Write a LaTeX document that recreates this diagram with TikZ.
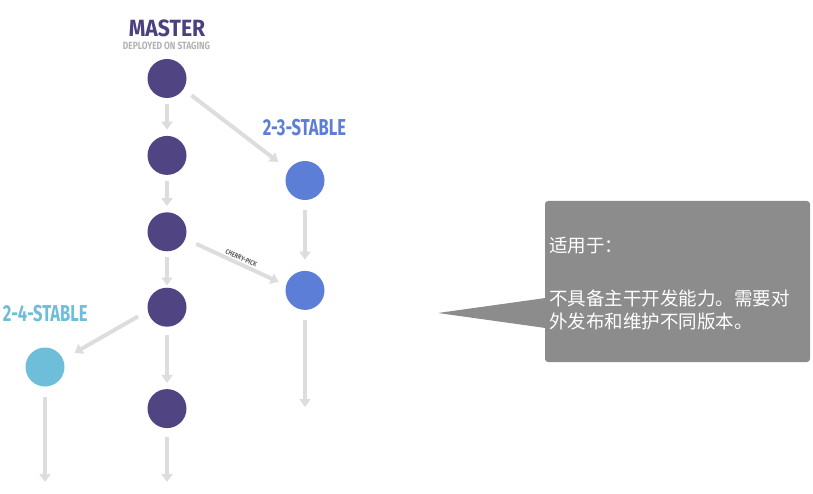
\documentclass[tikz,border=0pt]{standalone}
\usepackage{fontspec}
\newfontfamily\cjkfont{Noto Sans CJK SC}
\newfontfamily\masterfont[FakeStretch=0.9]{Fira Sans}
\newfontfamily\branchfont[FakeStretch=0.72]{Fira Sans}
\newfontfamily\notefont[FakeStretch=0.8]{Fira Sans}
\usetikzlibrary{arrows.meta, positioning}
\definecolor{MasterPurple}{RGB}{80,68,130}
\definecolor{MasterText}{RGB}{76,64,128}
\definecolor{StableBlue}{RGB}{92,126,214}
\definecolor{StableLiteBlue}{RGB}{110,189,217}
\definecolor{ArrowGray}{RGB}{221,221,221}
\definecolor{NoteGray}{RGB}{178,178,178}
\definecolor{PickGray}{RGB}{95,95,95}
\definecolor{CalloutGray}{RGB}{140,140,140}
\tikzset{%
  commit/.style={%
    circle,%
    minimum size=39pt,%
    inner sep=0pt,%
  },
  master_commit/.style={commit, fill=MasterPurple},
  stable_commit/.style={commit, fill=StableBlue},
  old_commit/.style={commit, fill=StableLiteBlue},
  flow_arrow/.style={%
    draw=ArrowGray,%
    line width=4pt,%
    -{Triangle[length=8pt, width=11pt]},%
    shorten <=6pt,%
    shorten >=6pt,%
  },
  branch_label/.style={%
    font={\branchfont\bfseries\fontsize{23}{23}\selectfont},%
    anchor=base,%
    inner sep=0pt,%
  },
  master_label/.style={%
    branch_label,%
    font={\masterfont\bfseries\fontsize{23.5}{23.5}\selectfont},%
  },
  note_label/.style={%
    font={\notefont\bfseries\fontsize{10.5}{10.5}\selectfont},%
    text=NoteGray,%
    anchor=base,%
    inner sep=0pt,%
  },
  pick_label/.style={%
    font={\notefont\bfseries\fontsize{7}{7}\selectfont},%
    text=PickGray,%
    inner sep=1.5pt,%
  },
  callout_box/.style={%
    fill=CalloutGray,%
    rectangle,%
    rounded corners=3pt,%
    minimum width=265pt,%
    minimum height=161pt,%
  },
  callout_text/.style={%
    font={\cjkfont\fontsize{18.5}{23.5}\selectfont},%
    text=white,%
    align=left,%
    inner sep=0pt,%
    anchor=base west,%
  },
}

\begin{document}
\begin{tikzpicture}[x=1pt, y=-1pt]
    \useasboundingbox (0,0) rectangle (813,494);

    % master line
    \node [master_commit] (Master1) at (167,78.5) {};
    \node [master_commit, below=37.5pt of Master1] (Master2) {};
    \node [master_commit, below=37pt of Master2] (Master3) {};
    \node [master_commit, below=36pt of Master3] (Master4) {};
    \node [master_commit, below=62pt of Master4] (Master5) {};
    \coordinate (MasterEnd) at (167,482);

    % stable branches
    \node [stable_commit] (StableA) at (305,180.5) {};
    \node [stable_commit, below=70.5pt of StableA] (StableB) {};
    \coordinate (StableEnd) at (305,407);
    \node [old_commit] (Old) at (45,367) {};
    \coordinate (OldEnd) at (45,482);

    % labels
    \node [master_label, text=MasterText] (MasterLabel) at (167,36.7) {MASTER};
    \node [note_label] (StagingNote) at (166.5,49.3) {DEPLOYED ON STAGING};
    \node [branch_label, text=StableBlue] (StableLabel) at (304.5,135.7) {2-3-STABLE};
    \node [branch_label, text=StableLiteBlue] (OldLabel) at (45.3,321) {2-4-STABLE};

    \draw [flow_arrow] (Master1) -- (Master2);
    \draw [flow_arrow] (Master2) -- (Master3);
    \draw [flow_arrow, shorten <=5pt, shorten >=2pt] (Master3) -- (Master4);
    \draw [flow_arrow, shorten <=8pt] (Master4) -- (Master5);
    \draw [flow_arrow, shorten <=9pt, shorten >=0pt] (Master5) -- (MasterEnd);
    \draw [flow_arrow, shorten <=10pt, shorten >=13pt]
      (Master1.-33) -- (StableA.147);
    \draw [flow_arrow, shorten <=10pt, shorten >=11pt] (StableA) -- (StableB);
    \draw [flow_arrow, shorten <=12pt, shorten >=8pt]
      (Master3.-21) -- (StableB.165)
      node [pos=0.53, sloped, above, pick_label] (PickLabel) {CHERRY-PICK};
    \draw [flow_arrow, shorten <=10pt, shorten >=0pt] (StableB) -- (StableEnd);
    \draw [flow_arrow, shorten <=11pt, shorten >=13pt]
      (Master4.191) -- (Old.23);
    \draw [flow_arrow, shorten <=10pt, shorten >=0pt] (Old) -- (OldEnd);

    % callout
    \node [callout_box] (Callout) at (677.5,281.5) {};
    \coordinate (CalloutTip) at (438,313);
    \fill [CalloutGray] (CalloutTip) -- (545.5,298) -- (545.5,328) -- cycle;
    \node [callout_text] (UsageTitle) at (549,252) {适用于：};
    \node [callout_text] (UsageBody) at (549,328.5)
      {不具备主干开发能力。需要对\\外发布和维护不同版本。};
\end{tikzpicture}
\end{document}
